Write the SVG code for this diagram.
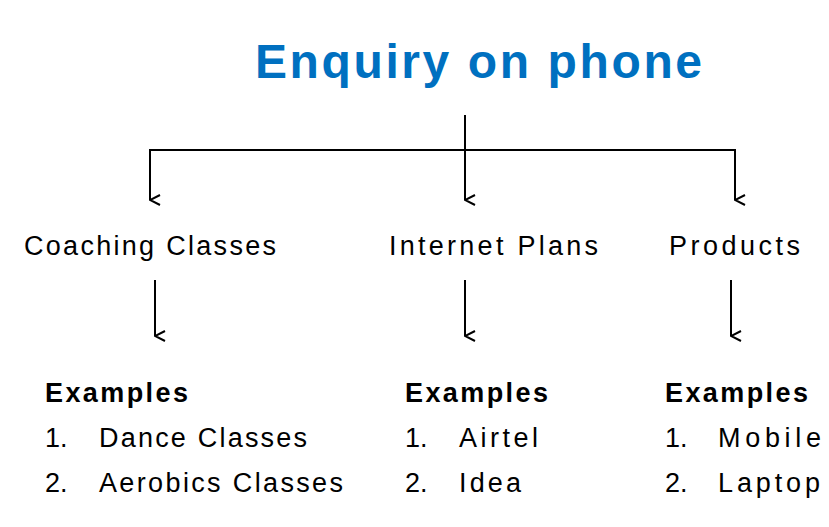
<svg xmlns="http://www.w3.org/2000/svg" width="829" height="527" viewBox="0 0 829 527">
<defs><marker id="a" markerWidth="12" markerHeight="12" refX="6" refY="11" orient="auto" markerUnits="userSpaceOnUse"><path d="M1,1 L6,11 L11,1" fill="none" stroke="#000" stroke-width="2"/></marker></defs>
<style>text{font-family:"Liberation Sans",Arial,sans-serif;fill:#000}.l{font-size:27px}.b{font-size:27px;font-weight:bold}.c line,.c path{stroke:#000;stroke-width:2;fill:none}</style>
<rect width="829" height="527" fill="#fff"/>
<g id="title"><text x="255" y="78" font-size="48" font-weight="bold" style="fill:#0070C0" textLength="447">Enquiry on phone</text></g>
<g class="c" id="connectors">
<line x1="465" y1="115" x2="465" y2="150"/>
<path d="M150,200 V150 H735 V200" marker-end="url(#a)"/>
<line x1="150" y1="150" x2="150" y2="200" marker-end="url(#a)"/>
<line x1="465" y1="150" x2="465" y2="200" marker-end="url(#a)"/>
<line x1="155" y1="280" x2="155" y2="336" marker-end="url(#a)"/>
<line x1="465" y1="280" x2="465" y2="336" marker-end="url(#a)"/>
<line x1="731" y1="280" x2="731" y2="336" marker-end="url(#a)"/>
</g>
<g id="coaching"><text class="l" x="24" y="255" textLength="252">Coaching Classes</text>
<text class="b" x="45" y="402" textLength="143">Examples</text>
<text class="l" x="45" y="447">1.</text><text class="l" x="99" y="447" textLength="208">Dance Classes</text>
<text class="l" x="45" y="492">2.</text><text class="l" x="99" y="492" textLength="244">Aerobics Classes</text></g>
<g id="internet"><text class="l" x="389" y="255" textLength="209">Internet Plans</text>
<text class="b" x="405" y="402" textLength="143">Examples</text>
<text class="l" x="405" y="447">1.</text><text class="l" x="459" y="447" textLength="79">Airtel</text>
<text class="l" x="405" y="492">2.</text><text class="l" x="459" y="492" textLength="62">Idea</text></g>
<g id="products"><text class="l" x="669" y="255" textLength="131">Products</text>
<text class="b" x="665" y="402" textLength="143">Examples</text>
<text class="l" x="665" y="447">1.</text><text class="l" x="718" y="447" textLength="103">Mobile</text>
<text class="l" x="665" y="492">2.</text><text class="l" x="718" y="492" textLength="102">Laptop</text></g>
</svg>
